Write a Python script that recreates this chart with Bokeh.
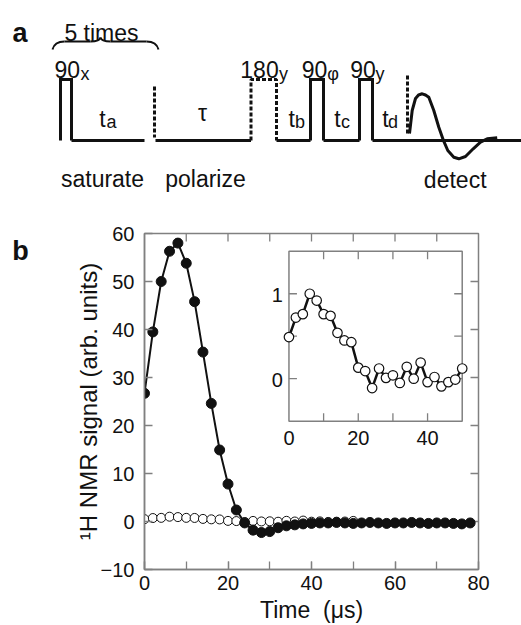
import math
from bokeh.plotting import figure
from bokeh.models import Range1d, SingleIntervalTicker
from bokeh.layouts import column, row
from bokeh.core.properties import value
from bokeh.embed import file_html
from bokeh.resources import INLINE

FONT = "Liberation Sans"
AXIS = "#808080"
INK = "#111111"

# ---------------- data: panel b (main) ----------------
filled_t = [0, 2, 4, 6, 8, 10, 12, 14, 16, 18, 20, 22, 24, 26, 28, 30, 32, 34, 36, 38,
            40, 42, 44, 46, 48, 50, 52, 54, 56, 58, 60, 62, 64, 66, 68, 70, 72, 74, 76, 78]
filled_signal = [26.7, 39.5, 50.0, 56.3, 58.0, 53.8, 45.8, 35.3, 24.6, 14.9,
                 7.8, 2.4, -0.3, -1.8, -2.3, -2.1, -1.3, -0.9, -0.7, -0.5,
                 -0.4, -0.3, -0.3, -0.2, -0.3, -0.4, -0.3, -0.2, -0.3, -0.4,
                 -0.3, -0.3, -0.2, -0.3, -0.4, -0.3, -0.3, -0.4, -0.5, -0.3]

open_t = [0, 2, 4, 6, 8, 10, 12, 14, 16, 18, 20, 22, 24, 26, 28, 30, 32, 34, 36, 38,
          40, 42, 44, 46, 48, 50]
open_signal = [0.49, 0.72, 0.76, 1.00, 0.92, 0.76, 0.74, 0.54, 0.45, 0.43,
               0.13, 0.09, -0.11, 0.12, 0.01, 0.04, -0.05, 0.14, 0.00, 0.19,
               -0.04, 0.02, -0.09, -0.04, -0.01, 0.12]

main_x_range = (0, 80)
main_y_range = (-10, 60)
main_top_ticks = [10, 20, 30, 40, 50, 60, 70]
main_right_ticks = [0, 10, 20, 30, 40, 50]
inset_x_range = (0, 50)
inset_y_range = (-0.5, 1.5)
inset_x_ticks = [10, 20, 30, 40]
inset_y_ticks = [0, 0.5, 1]
inset_x_labels = ["0", "20", "40"]
inset_x_label_pos = [0, 20, 40]
inset_y_labels = ["0", "1"]
inset_y_label_pos = [0, 1]
# inset box placed in main-data units
inset_box = dict(left=34.6, right=76.1, bottom=20.9, top=56.3)

# ---------------- data: panel a (pulse sequence schematic) ----------------
baseline_y = 140
pulse_top_y = 79
solid_pulse_left = [60, 310, 359]
solid_pulse_right = [71, 323, 372]
dashed_pulse_left = [250.5]
dashed_pulse_right = [276]
baseline_start = [71, 155, 276, 323, 372]
baseline_end = [144, 250.5, 310, 359, 521]
dashed_mark_x = [154, 407]
dashed_mark_top = [86, 75]
dashed_mark_bottom = [137, 135]
detect_x = [409, 411.7, 415, 418, 421.7, 425, 428.3, 433.3, 438.3, 442.7, 447.3,
            453.3, 458.3, 465, 472.7, 480, 486.7, 496.7]
detect_y = [133, 110, 98, 94.5, 93.3, 94.5, 96.7, 110, 126.7, 139.3, 150,
            156.7, 158.3, 156, 148.3, 141.7, 138.3, 137.3]
brace_x0 = [52, 90, 100, 146]
brace_y0 = [49, 41, 37, 41]
brace_x1 = [64, 100, 110, 158]
brace_y1 = [41, 37, 41, 49]
brace_cx = [54, 99, 101, 156]
brace_cy = [41, 41, 41, 41]
brace_line_x0 = [64, 110]
brace_line_x1 = [90, 146]
brace_line_y = [41, 41]

big_text = ["5 times", "90", "180", "90", "90", "t", "\u03c4", "t", "t", "t",
            "saturate", "polarize", "detect"]
big_x = [101, 66.7, 259, 314, 362.5, 102, 202, 291.3, 337, 385, 102, 205, 454.7]
big_y = [32, 69, 69, 69, 69, 118, 112, 118, 118, 118, 178, 178, 179]
sub_text = ["x", "y", "\u03c6", "y", "a", "b", "c", "d"]
sub_x = [84.5, 283, 332.5, 379.5, 111, 299.5, 345, 392.5]
sub_y = [73, 73, 73, 73, 121, 121, 121, 121]

# ---------------- panel a ----------------
pa = figure(width=521, height=200, x_range=Range1d(0, 521), y_range=Range1d(200, 0),
            output_backend="svg", toolbar_location=None, x_axis_type=None, y_axis_type=None,
            min_border=0, outline_line_color=None, frame_align=False)
pa.grid.visible = False

for l, r in zip(solid_pulse_left, solid_pulse_right):
    pa.line([l, l, r, r], [baseline_y, pulse_top_y, pulse_top_y, baseline_y],
            line_color=INK, line_width=3, line_join="miter")
for l, r in zip(dashed_pulse_left, dashed_pulse_right):
    pa.line([l, l, r, r], [baseline_y, pulse_top_y, pulse_top_y, baseline_y],
            line_color=INK, line_width=3, line_dash="4 2")
pa.segment(x0=baseline_start, y0=[baseline_y] * len(baseline_start),
           x1=baseline_end, y1=[baseline_y] * len(baseline_end),
           line_color=INK, line_width=3)
pa.segment(x0=dashed_mark_x, y0=dashed_mark_top, x1=dashed_mark_x, y1=dashed_mark_bottom,
           line_color=INK, line_width=3, line_dash="4 2")
pa.line(detect_x, detect_y, line_color=INK, line_width=3, line_join="round")
pa.quadratic(x0=brace_x0, y0=brace_y0, x1=brace_x1, y1=brace_y1, cx=brace_cx, cy=brace_cy,
             line_color=INK, line_width=2)
pa.segment(x0=brace_line_x0, y0=brace_line_y, x1=brace_line_x1, y1=brace_line_y,
           line_color=INK, line_width=2)
pa.text(x=big_x, y=big_y, text=big_text, text_font=value(FONT), text_font_size="23px",
        text_align="center", text_baseline="alphabetic", text_color=INK)
pa.text(x=sub_x, y=sub_y, text=sub_text, text_font=value(FONT), text_font_size="18px",
        text_align="center", text_baseline="alphabetic", text_color=INK)
pa.text(x=[19.5], y=[32], text=["a"], text_font=value(FONT), text_font_size="27px",
        text_font_style="bold", text_align="center", text_baseline="alphabetic", text_color=INK)

# ---------------- panel b letter ----------------
LABEL_W = 40
pl = figure(width=LABEL_W, height=425, x_range=Range1d(0, LABEL_W), y_range=Range1d(425, 0),
            output_backend="svg", toolbar_location=None, x_axis_type=None, y_axis_type=None,
            min_border=0, outline_line_color=None, frame_align=False)
pl.grid.visible = False
pl.text(x=[20], y=[50], text=["b"], text_font=value(FONT), text_font_size="27px",
        text_font_style="bold", text_align="center", text_baseline="alphabetic", text_color=INK)

# ---------------- panel b ----------------
pb = figure(width=521 - LABEL_W, height=425,
            x_range=Range1d(*main_x_range), y_range=Range1d(*main_y_range),
            output_backend="svg", toolbar_location=None,
            min_border_left=144 - LABEL_W, min_border_right=43, min_border_top=33,
            min_border_bottom=56, frame_align=False,
            x_axis_label="Time\u00a0\u00a0(\u03bcs)", y_axis_label="\u00b9H NMR signal (arb. units)",
            outline_line_color=AXIS, outline_line_width=1.5)
pb.grid.visible = False

for ax in (pb.xaxis[0], pb.yaxis[0]):
    ax.axis_line_color = AXIS
    ax.axis_line_width = 1.5
    ax.major_tick_line_color = AXIS
    ax.minor_tick_line_color = AXIS
    ax.major_tick_line_width = 1.3
    ax.minor_tick_line_width = 1.3
    ax.major_tick_in = 8
    ax.major_tick_out = 0
    ax.minor_tick_in = 8
    ax.minor_tick_out = 0
    ax.major_label_text_font = FONT
    ax.major_label_text_color = INK
    ax.major_label_text_font_size = "20px"
    ax.axis_label_text_font = FONT
    ax.axis_label_text_font_style = "normal"
    ax.axis_label_text_color = INK

pb.xaxis.axis_label_text_font_size = "23px"
pb.yaxis.axis_label_text_font_size = "24px"
pb.xaxis.ticker = SingleIntervalTicker(interval=20, num_minor_ticks=2)
pb.yaxis.ticker = SingleIntervalTicker(interval=10, num_minor_ticks=0)
pb.xaxis.major_label_standoff = 6
pb.xaxis.axis_label_standoff = 4
pb.yaxis.major_label_standoff = 10
pb.yaxis.axis_label_standoff = -4

# inward ticks on the top and right frame edges
pb.ray(x=main_top_ticks, y=[main_y_range[1]] * len(main_top_ticks), length=8,
       length_units="screen", angle=-math.pi / 2, line_color=AXIS, line_width=1.3)
pb.ray(x=[main_x_range[1]] * len(main_right_ticks), y=main_right_ticks, length=8,
       length_units="screen", angle=math.pi, line_color=AXIS, line_width=1.3)

# main data
pb.scatter(open_t, open_signal, marker="circle", size=9, fill_color="white",
           line_color=INK, line_width=1)
pb.line(filled_t, filled_signal, line_color=INK, line_width=2)
pb.scatter(filled_t, filled_signal, marker="circle", size=10, fill_color=INK,
           line_color=INK)

# inset via extra ranges mapped onto the inset box
def to_inset(v, m0, m1, i0, i1):
    return i0 + (v - m0) * (i1 - i0) / (m1 - m0)

ix0 = to_inset(main_x_range[0], inset_box["left"], inset_box["right"], *inset_x_range)
ix1 = to_inset(main_x_range[1], inset_box["left"], inset_box["right"], *inset_x_range)
iy0 = to_inset(main_y_range[0], inset_box["bottom"], inset_box["top"], *inset_y_range)
iy1 = to_inset(main_y_range[1], inset_box["bottom"], inset_box["top"], *inset_y_range)
pb.extra_x_ranges = {"ix": Range1d(ix0, ix1)}
pb.extra_y_ranges = {"iy": Range1d(iy0, iy1)}
kw = dict(x_range_name="ix", y_range_name="iy")

pb.quad(left=[inset_x_range[0]], right=[inset_x_range[1]],
        bottom=[inset_y_range[0]], top=[inset_y_range[1]],
        fill_color="white", line_color=AXIS, line_width=1.5, **kw)
n = len(inset_x_ticks)
pb.ray(x=inset_x_ticks, y=[inset_y_range[0]] * n, length=8, length_units="screen",
       angle=math.pi / 2, line_color=AXIS, line_width=1.3, **kw)
pb.ray(x=inset_x_ticks, y=[inset_y_range[1]] * n, length=8, length_units="screen",
       angle=-math.pi / 2, line_color=AXIS, line_width=1.3, **kw)
m = len(inset_y_ticks)
pb.ray(x=[inset_x_range[0]] * m, y=inset_y_ticks, length=8, length_units="screen",
       angle=0, line_color=AXIS, line_width=1.3, **kw)
pb.ray(x=[inset_x_range[1]] * m, y=inset_y_ticks, length=8, length_units="screen",
       angle=math.pi, line_color=AXIS, line_width=1.3, **kw)
pb.text(x=inset_x_label_pos, y=[inset_y_range[0]] * len(inset_x_label_pos), text=inset_x_labels,
        y_offset=17, text_align="center", text_baseline="middle",
        text_font=value(FONT), text_font_size="20px", text_color=INK, **kw)
pb.text(x=[inset_x_range[0]] * len(inset_y_label_pos), y=inset_y_label_pos, text=inset_y_labels,
        x_offset=-6, y_offset=1, text_align="right", text_baseline="middle",
        text_font=value(FONT), text_font_size="20px", text_color=INK, **kw)

pb.line(open_t, open_signal, line_color=INK, line_width=2.5, **kw)
pb.scatter(open_t, open_signal, marker="circle", size=9.5, fill_color="white",
           line_color=INK, line_width=1.2, **kw)

layout = column(pa, row(pl, pb))
open("out.html", "w").write(file_html(layout, INLINE))
